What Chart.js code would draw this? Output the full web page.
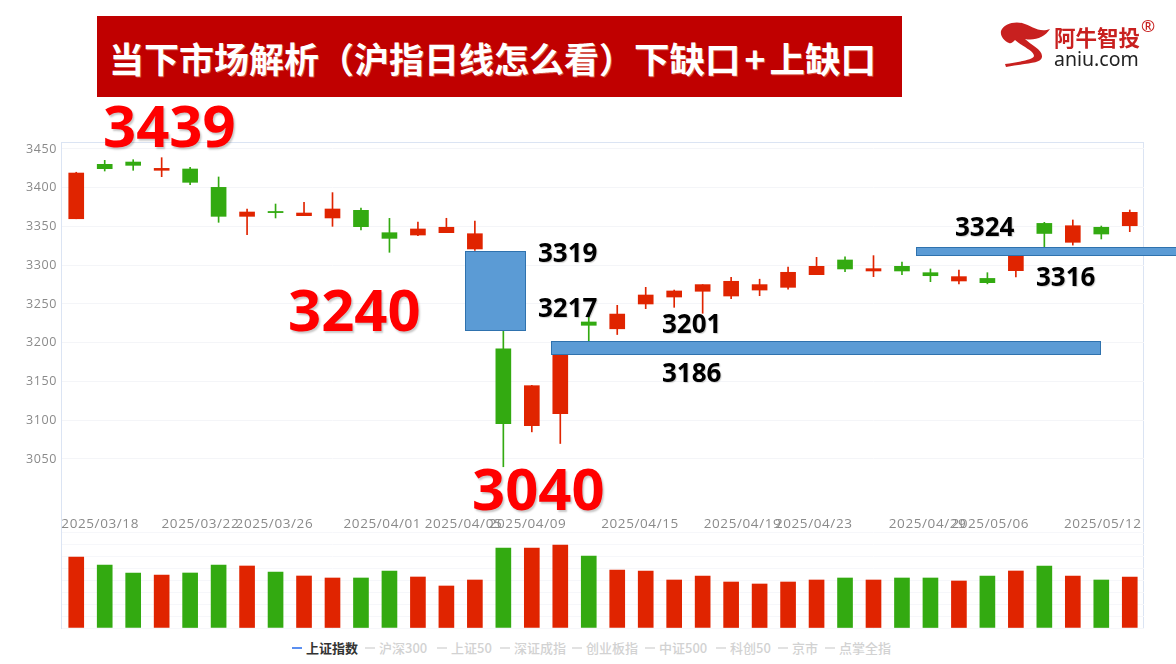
<!DOCTYPE html>
<html lang="zh">
<head>
<meta charset="utf-8">
<title>沪指日线</title>
<script src="https://cdn.jsdelivr.net/npm/chart.js@4"></script>
<style>
html,body{margin:0;padding:0;background:#fff;width:1176px;height:664px;overflow:hidden;font-family:"Noto Sans CJK SC","Noto Sans",sans-serif}
canvas{position:absolute;left:0}
#frame{position:absolute;left:61px;top:142px;width:1081px;height:485px;border:1px solid #dbe4f3;box-sizing:content-box}
#banner{position:absolute;left:97px;top:16px;width:805px;height:81px;background:#c00000}
#title{position:absolute;left:109px;top:33px;color:#fff;font:700 35px/50px "Noto Sans CJK SC";white-space:nowrap;text-shadow:1px 1px 0 rgba(255,240,200,.35)}
#title span{font-size:35.5px}
#title i{font-style:normal;font-size:35.5px;margin:0 4px}
.big,.mid{position:absolute;font-family:"Noto Sans";font-weight:700;white-space:nowrap}
.big{color:#ff0000;font-size:58px;line-height:60px;text-shadow:1.5px 1.5px 2px rgba(0,0,0,.22)}
.mid{color:#000;font-size:26px;line-height:30px;text-shadow:1px 1px 1px rgba(0,0,0,.18)}
.gap{position:absolute;background:#5b9bd5;border:1.5px solid #2f72ae;box-sizing:border-box}
.leg{position:absolute;top:640px;font:500 13px/16px "Noto Sans CJK SC";color:#d2d2d2;white-space:nowrap}
.legd{position:absolute;top:647px;height:2px;width:10px;background:#e2e2e2}
#logo{position:absolute;left:0;top:0}
#l1{position:absolute;left:1054px;top:23px;font:700 21.5px/28px "Noto Sans CJK SC";color:#c8201f;white-space:nowrap}
#l2{position:absolute;left:1054px;top:47px;font:400 19.5px/24px "Noto Sans";color:#222;white-space:nowrap}
#l3{position:absolute;left:1141px;top:17px;font:400 17px/18px "Noto Sans";color:#c8201f}
</style>
</head>
<body>
<div id="frame"></div>
<canvas id="priceChart" width="1176" height="540" style="top:0"></canvas>
<canvas id="volChart" width="1176" height="110" style="top:520px"></canvas>

<div id="banner"></div>
<div id="title">当下市场解析（沪指日线怎么看）<span>下缺口</span><i>+</i><span>上缺口</span></div>
<svg id="logo" width="1176" height="100">
  <path d="M1001 31 C1003 24 1014 21 1022 23 C1032 26 1039 33 1050 29 C1045 37 1035 41 1025 39 C1031 45 1043 50 1042 57 C1041 64 1025 63 1006 67 L1005 64 C1018 62 1033 60 1034 56 C1034 51 1023 47 1015 40 C1013 42 1011 44 1009 43 C1004 41 1000 36 1001 31 Z" fill="#c8201f"/>
</svg>
<div id="l1">阿牛智投</div>
<div id="l2">aniu.com</div>
<div id="l3">®</div>

<div class="gap" style="left:465px;top:251px;width:61px;height:80px"></div>
<div class="gap" style="left:551px;top:341px;width:550px;height:14px"></div>
<div class="gap" style="left:916px;top:247px;width:262px;height:9px"></div>

<div class="big" style="left:103px;top:95px">3439</div>
<div class="big" style="left:288px;top:279px">3240</div>
<div class="big" style="left:472px;top:458px">3040</div>
<div class="mid" style="left:538px;top:237px">3319</div>
<div class="mid" style="left:538px;top:292px">3217</div>
<div class="mid" style="left:662px;top:308px">3201</div>
<div class="mid" style="left:662px;top:357px">3186</div>
<div class="mid" style="left:955px;top:211px">3324</div>
<div class="mid" style="left:1036px;top:261px">3316</div>

<div id="legend"></div>

<script>
const categories = ["2025/03/18","2025/03/19","2025/03/20","2025/03/21","2025/03/24","2025/03/25","2025/03/26","2025/03/27","2025/03/28","2025/03/31","2025/04/01","2025/04/02","2025/04/03","2025/04/07","2025/04/08","2025/04/09","2025/04/10","2025/04/11","2025/04/14","2025/04/15","2025/04/16","2025/04/17","2025/04/18","2025/04/21","2025/04/22","2025/04/23","2025/04/24","2025/04/25","2025/04/28","2025/04/29","2025/04/30","2025/05/06","2025/05/07","2025/05/08","2025/05/09","2025/05/12","2025/05/13","2025/05/14"];
const openVals  = [3360,3430.2,3433.2,3422.5,3424.2,3400.5,3363.1,3369.4,3364,3361,3370.9,3342,3339,3342,3321,3192,3093,3108.5,3226.8,3218,3250,3259,3266.4,3260.3,3268,3271.5,3287.8,3306.8,3292.6,3298.6,3290.4,3279.7,3283,3293,3354,3329.6,3349,3351];
const closeVals = [3419,3424.6,3428.9,3425,3407,3363.1,3368.7,3367.9,3367.4,3372.6,3349.8,3334.7,3346.8,3349,3340.7,3095.6,3144.6,3186,3222.5,3237,3261.6,3266.8,3275,3279.3,3275,3290.9,3298.6,3295.2,3295.6,3292.6,3286.5,3285.3,3277.5,3316,3341,3351,3340.3,3368.3];
const highVals  = [3420,3435.4,3436.2,3438.8,3426.3,3413.9,3372.6,3379,3381.2,3393.7,3373.9,3360.5,3355.8,3360.6,3357,3240,3145,3190,3233.7,3248.3,3271.5,3268,3275,3284.4,3282,3297.7,3310.2,3311,3312.4,3304.2,3295.2,3293.9,3290.4,3316,3355.4,3358.4,3350.6,3371.3];
const lowVals   = [3360,3421.6,3422.5,3414.3,3404,3355.4,3339.5,3361,3364,3350.2,3345.5,3316.7,3338.1,3342,3319,3040,3085,3070,3201,3210.6,3244,3245.7,3238,3257,3260.7,3269,3287.8,3291.7,3285.3,3287.8,3278.8,3276,3276,3285,3324,3326,3333.9,3343.3];
const volumes   = [71,63,55,53,55,63,62,56,52,50,50,57,51,42,48,80,80,83,72,58,57,48,52,46,44,46,48,50,48,50,50,47,52,57,62,52,48,51];
const priceTicks = [3050,3100,3150,3200,3250,3300,3350,3400,3450];
const dateLabels = ["2025/03/18","2025/03/22","2025/03/26","2025/04/01","2025/04/05","2025/04/09","2025/04/15","2025/04/19","2025/04/23","2025/04/29","2025/05/06","2025/05/12"];
const dateSlots  = [0.84,4.36,6.96,10.75,13.6,15.85,19.8,23.4,25.9,29.9,32.1,36.05];
const legendNames = ["上证指数","沪深300","上证50","深证成指","创业板指","中证500","科创50","京市","点掌全指"];
const legendLeft  = [306,379,451,514,586,659,730,792,839];

const RED = "#e02400", GREEN = "#33aa11";
const barColors = openVals.map((o,i)=> closeVals[i] >= o ? RED : GREEN);
const wickColors = barColors;

const spacing = {id:"spacing",beforeDraw(chart){chart.ctx.letterSpacing="0.6px";}};

new Chart(document.getElementById("priceChart"),{
  type:"bar",
  plugins:[spacing],
  data:{labels:categories,datasets:[
    {label:"wick",data:categories.map((_,i)=>[lowVals[i],highVals[i]]),backgroundColor:wickColors,barThickness:1,grouped:false,order:2,xAxisID:"x",yAxisID:"y"},
    {label:"上证指数",data:categories.map((_,i)=>[openVals[i],closeVals[i]]),backgroundColor:barColors,barThickness:15,grouped:false,order:1,xAxisID:"x",yAxisID:"y"}
  ]},
  options:{
    responsive:false,animation:false,
    layout:{padding:{left:0,right:32,top:142,bottom:0}},
    plugins:{legend:{display:false},tooltip:{enabled:false}},
    scales:{
      x:{type:"category",display:false,offset:true,grid:{display:false}},
      xl:{type:"linear",position:"bottom",offset:false,min:-0.5,max:37.5,
        afterBuildTicks:s=>{s.ticks=dateSlots.map(v=>({value:v}));},
        afterFit:s=>{s.height=28;},
        grid:{display:false,drawTicks:false,offset:false},border:{display:false},
        ticks:{autoSkip:false,maxRotation:0,padding:4,color:"#8a8a8a",font:{family:"Open Sans",size:13.5},callback:(v,i)=>dateLabels[i]}
      },
      y:{type:"linear",position:"left",min:2981.6,max:3459.03,
        afterBuildTicks:s=>{s.ticks=priceTicks.map(v=>({value:v}));},
        afterFit:s=>{s.width=62;},
        grid:{color:"#f4f5f8",drawTicks:false},border:{display:false},
        ticks:{padding:5,color:"#8a8a8a",font:{family:"Open Sans",size:12.5},callback:v=>String(v)}
      }
    }
  }
});

new Chart(document.getElementById("volChart"),{
  type:"bar",
  data:{labels:categories,datasets:[{label:"成交量",data:volumes,backgroundColor:barColors,barThickness:15}]},
  options:{
    responsive:false,animation:false,
    layout:{padding:{left:62,right:32,top:12,bottom:2}},
    plugins:{legend:{display:false},tooltip:{enabled:false}},
    scales:{
      x:{display:false,offset:true,grid:{display:false}},
      y:{min:0,max:96,afterFit:s=>{s.width=0;},border:{display:false},
        grid:{color:"#f6f7fa",drawTicks:false},
        ticks:{display:false,stepSize:12}}
    }
  }
});

const lg=document.getElementById("legend");
legendNames.forEach((n,i)=>{
  const d=document.createElement("div");d.className="legd";d.style.left=(legendLeft[i]-14)+"px";
  if(i===0){d.style.background="#5b8ff0";}
  const t=document.createElement("div");t.className="leg";t.style.left=legendLeft[i]+"px";t.textContent=n;
  if(i===0){t.style.color="#333";t.style.fontWeight="700";}
  lg.appendChild(d);lg.appendChild(t);
});
</script>
</body>
</html>
